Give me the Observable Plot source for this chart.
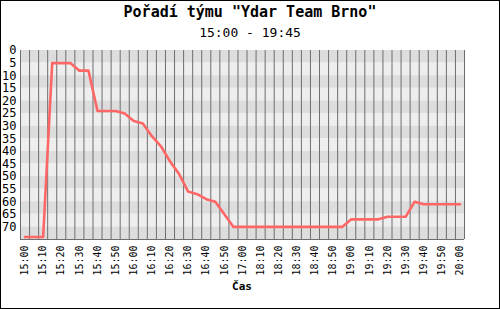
<!DOCTYPE html>
<html><head><meta charset="utf-8">
<script src="https://cdn.jsdelivr.net/npm/d3@7"></script>
<script src="https://cdn.jsdelivr.net/npm/@observablehq/plot@0.6"></script>
<style>
body{margin:0;background:#fff;}
#wrap{position:relative;width:500px;height:309px;overflow:hidden;background:#fff;font-family:"DejaVu Sans Mono",monospace;color:#000;}
#frame{position:absolute;left:0;top:0;width:500px;height:309px;box-sizing:border-box;border:1px solid #000;pointer-events:none;}
#title{position:absolute;left:0;width:500px;top:5px;text-align:center;font-weight:bold;font-size:15px;line-height:15px;white-space:pre;}
#subtitle{position:absolute;left:0;width:500px;top:26px;text-align:center;font-size:13px;line-height:13px;white-space:pre;}
#chart{position:absolute;left:0;top:42px;}
#xlabel{position:absolute;left:192px;width:100px;top:281px;text-align:center;font-weight:bold;font-size:11px;line-height:11px;}
</style>
</head><body>
<div id="wrap">
  <div id="title">Pořadí týmu "Ydar Team Brno"</div>
  <div id="subtitle">15:00 - 19:45</div>
  <div id="chart"></div>
  <div id="xlabel">Čas</div>
  <div id="frame"></div>
</div>
<script>
const times = [
  "15:00","15:05","15:10","15:15","15:20","15:25","15:30","15:35","15:40","15:45",
  "15:50","15:55","16:00","16:05","16:10","16:15","16:20","16:25","16:30","16:35",
  "16:40","16:45","16:50","16:55","17:00","18:05","18:10","18:15","18:20","18:25",
  "18:30","18:35","18:40","18:45","18:50","18:55","19:00","19:05","19:10","19:15",
  "19:20","19:25","19:30","19:35","19:40","19:45","19:50","19:55","20:00"
];
const ranks = [
  74,74,74,5,5,5,8,8,24,24,
  24,25,28,29,34,38,44,49,56,57,
  59,60,65,70,70,70,70,70,70,70,
  70,70,70,70,70,70,67,67,67,67,
  66,66,66,60,61,61,61,61,61
];
const yTicks = [0,5,10,15,20,25,30,35,40,45,50,55,60,65,70];
const yMax = 75;
const bandColors = ["#dddddd", "#eeeeee"];
const lineColor = "#ff6666";
const gridColor = "#6e6e6e";

const data = times.map((t, i) => ({i, t, rank: ranks[i]}));
const bands = yTicks.map((v, k) => ({y1: v, y2: v + 5, fill: bandColors[k % 2]}));
const bounds = d3.range(times.length + 1).map(i => i - 0.5);
const xTickIdx = d3.range(0, times.length, 2);

const chart = Plot.plot({
  width: 500, height: 267,
  marginTop: 8, marginBottom: 70, marginLeft: 20, marginRight: 36,
  style: {fontFamily: "DejaVu Sans Mono, monospace", background: "transparent", color: "#000"},
  x: {domain: [-0.5, times.length - 0.5]},
  y: {domain: [0, yMax], reverse: true},
  color: {type: "identity"},
  marks: [
    Plot.rect(bands, {y1: "y1", y2: "y2", fill: "fill"}),
    Plot.ruleX(bounds, {stroke: gridColor, strokeWidth: 1}),
    Plot.ruleY([yMax], {stroke: gridColor, strokeWidth: 1}),
    Plot.line(data, {x: "i", y: "rank", stroke: lineColor, strokeWidth: 2.6}),
    Plot.axisY(yTicks, {tickSize: 0, tickPadding: 4, fontSize: 12, label: null}),
    Plot.axisX(xTickIdx, {tickSize: 0, tickPadding: 6, tickRotate: -90, fontSize: 10,
      tickFormat: i => times[i], label: null})
  ]
});
document.getElementById("chart").appendChild(chart);
</script>
</body></html>
